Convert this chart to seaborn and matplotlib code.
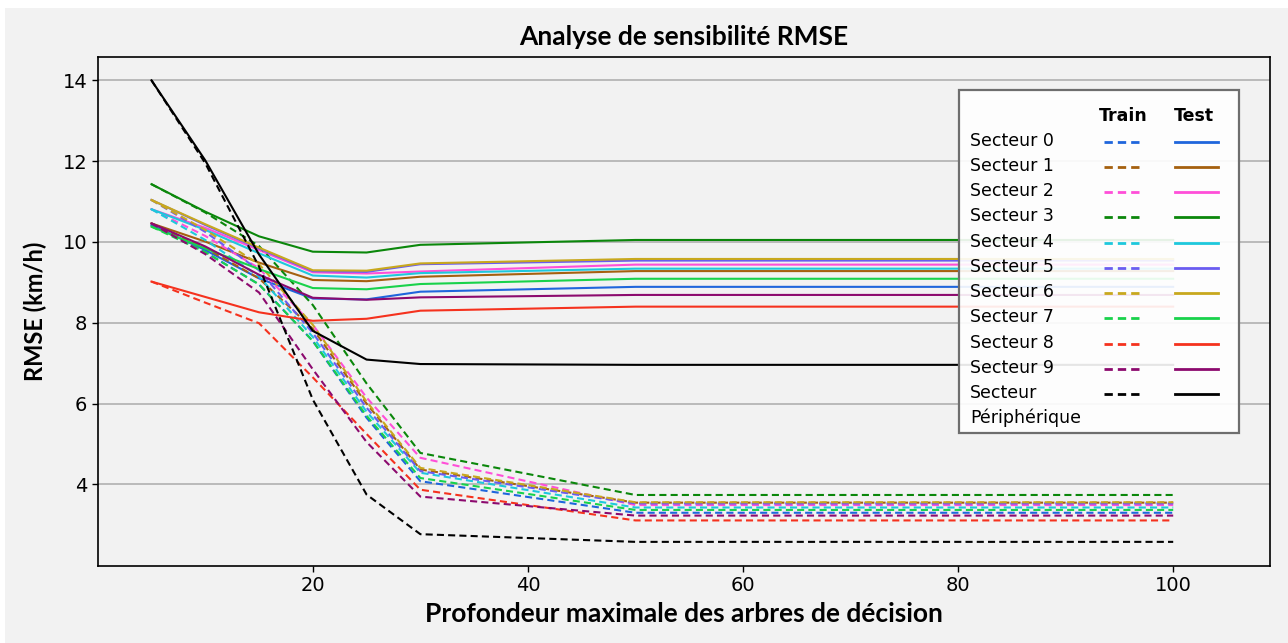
import matplotlib
matplotlib.use('Agg')
import pandas as pd
import seaborn as sns
import matplotlib.pyplot as plt
from matplotlib.lines import Line2D
from matplotlib.patches import Rectangle

# valeurs
profondeur = [5, 10, 15, 20, 25, 30, 50, 100]
secteurs = ['Secteur 0', 'Secteur 1', 'Secteur 2', 'Secteur 3', 'Secteur 4',
            'Secteur 5', 'Secteur 6', 'Secteur 7', 'Secteur 8', 'Secteur 9',
            'Secteur\nPériphérique']
couleurs = ['#1f66dc', '#a5600f', '#ff4fd8', '#0b870b', '#1ec8dc',
            '#6a5cf0', '#c8a81e', '#19d24b', '#f5321e', '#8c0a6e', '#000000']

rmse_train = [
    [10.42, 9.75, 8.95, 7.55, 5.65, 4.08, 3.30, 3.30],
    [10.46, 9.85, 9.10, 7.85, 6.00, 4.37, 3.55, 3.55],
    [10.81, 10.15, 9.35, 7.95, 6.15, 4.66, 3.49, 3.49],
    [11.43, 10.73, 9.90, 8.44, 6.50, 4.78, 3.74, 3.74],
    [10.81, 10.05, 9.15, 7.65, 5.80, 4.29, 3.43, 3.43],
    [11.04, 10.25, 9.30, 7.75, 5.90, 4.33, 3.53, 3.53],
    [11.04, 10.30, 9.45, 7.95, 6.05, 4.41, 3.56, 3.56],
    [10.38, 9.75, 8.95, 7.55, 5.70, 4.16, 3.37, 3.37],
    [9.02, 8.50, 7.99, 6.65, 5.25, 3.87, 3.11, 3.11],
    [10.46, 9.70, 8.75, 6.85, 5.05, 3.70, 3.23, 3.23],
    [14.00, 11.95, 9.39, 6.10, 3.75, 2.77, 2.58, 2.58],
]
rmse_test = [
    [10.42, 9.80, 9.10, 8.60, 8.58, 8.77, 8.89, 8.89],
    [10.46, 10.01, 9.49, 9.06, 9.03, 9.14, 9.28, 9.28],
    [10.81, 10.35, 9.80, 9.25, 9.22, 9.27, 9.44, 9.44],
    [11.43, 10.75, 10.14, 9.76, 9.74, 9.93, 10.05, 10.05],
    [10.81, 10.30, 9.72, 9.17, 9.12, 9.23, 9.34, 9.34],
    [11.04, 10.42, 9.84, 9.28, 9.26, 9.45, 9.54, 9.54],
    [11.04, 10.44, 9.86, 9.30, 9.29, 9.47, 9.58, 9.58],
    [10.38, 9.84, 9.33, 8.86, 8.83, 8.96, 9.09, 9.09],
    [9.02, 8.64, 8.26, 8.05, 8.10, 8.30, 8.40, 8.40],
    [10.46, 9.89, 9.19, 8.62, 8.57, 8.63, 8.69, 8.69],
    [14.00, 12.02, 9.69, 7.80, 7.09, 6.98, 6.96, 6.96],
]

# format long pour seaborn
rows = []
for i, s in enumerate(secteurs):
    for jeu, vals in (('Train', rmse_train[i]), ('Test', rmse_test[i])):
        for d, v in zip(profondeur, vals):
            rows.append({'depth': d, 'rmse': v, 'secteur': s, 'jeu': jeu})
df = pd.DataFrame(rows)

plt.rcParams['font.family'] = 'DejaVu Sans'

W, H = 1288, 643
def fx(p):
    return p / W
def fy(p):
    return 1 - p / H

fig = plt.figure(figsize=(W / 100, H / 100), dpi=100, facecolor='white')
fig.add_artist(Rectangle((fx(5), 0), 1 - fx(5), fy(8), transform=fig.transFigure,
                         facecolor='#f2f2f2', edgecolor='none', zorder=-5))
ax = fig.add_axes([fx(97.7), fy(565.7), fx(1270 - 97.7), (565.7 - 57.3) / H])
ax.set_facecolor('#f2f2f2')

palette = dict(zip(secteurs, couleurs))
sns.lineplot(data=df, x='depth', y='rmse', hue='secteur', style='jeu',
             hue_order=secteurs, style_order=['Train', 'Test'], palette=palette,
             dashes={'Train': (3.4, 2.0), 'Test': ''}, linewidth=1.5,
             estimator=None, legend=False, ax=ax)

ax.set_xlim(0, 109)
ax.set_ylim(1.99, 14.57)
ax.set_xticks([20, 40, 60, 80, 100])
ax.set_yticks([4, 6, 8, 10, 12, 14])
ax.tick_params(labelsize=14, length=4, width=1)
ax.grid(axis='y', color='#b0b0b0', linewidth=1.2)
ax.set_axisbelow(True)
for sp in ax.spines.values():
    sp.set_color('black')
    sp.set_linewidth(1.2)

ax.set_title('Analyse de sensibilité RMSE', fontsize=19, fontweight='bold',
             family='Lato', pad=9)
ax.set_xlabel('Profondeur maximale des arbres de décision', fontsize=19,
              fontweight='bold', family='Lato', labelpad=5)
ax.set_ylabel('RMSE (km/h)', fontsize=17, fontweight='bold', family='Lato',
              labelpad=11)

# légende en tableau Train / Test
fig.add_artist(Rectangle((fx(958.5), fy(433)), fx(1239 - 958.5), (433 - 90) / H,
                         transform=fig.transFigure, facecolor=(1, 1, 1, 0.9),
                         edgecolor='#6e6e6e', linewidth=1.6, zorder=5))
fig.text(fx(1123.3), fy(121), 'Train', ha='center', va='baseline',
         fontsize=12.5, fontweight='bold', zorder=6)
fig.text(fx(1193.7), fy(121), 'Test', ha='center', va='baseline',
         fontsize=12.5, fontweight='bold', zorder=6)
for i, (s, c) in enumerate(zip(secteurs, couleurs)):
    yb = 145.7 + 25.25 * i
    yl = 141.7 + 25.25 * i
    fig.text(fx(970), fy(yb), s.split('\n')[0], ha='left', va='baseline',
             fontsize=12.5, zorder=6)
    if '\n' in s:
        fig.text(fx(970), fy(yb + 24.5), s.split('\n')[1], ha='left',
                 va='baseline', fontsize=12.5, zorder=6)
    fig.add_artist(Line2D([fx(1104), fx(1142)], [fy(yl), fy(yl)], color=c,
                          linewidth=2, linestyle=(0, (3.0, 1.8)),
                          transform=fig.transFigure, zorder=6))
    fig.add_artist(Line2D([fx(1175), fx(1218)], [fy(yl), fy(yl)], color=c,
                          linewidth=2, transform=fig.transFigure, zorder=6))

fig.savefig('out.png', dpi=100, facecolor=fig.get_facecolor())
